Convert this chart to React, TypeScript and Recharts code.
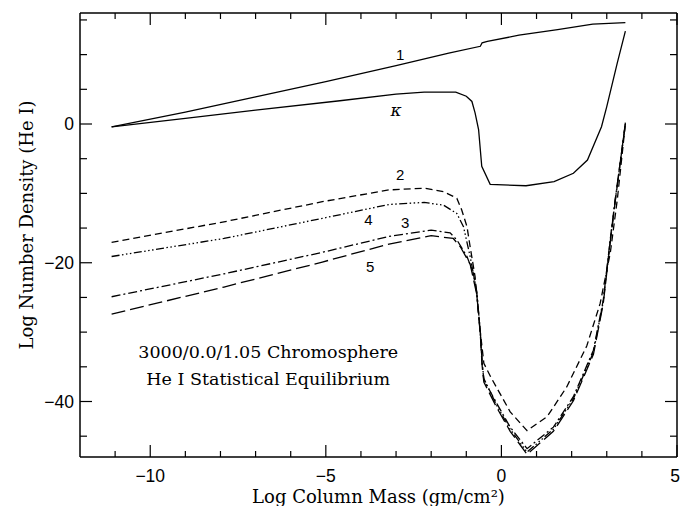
import { LineChart, Line, XAxis, YAxis, ReferenceDot, Label } from "recharts";

// axis ticks
const X_TICKS = [-11, -10, -9, -8, -7, -6, -5, -4, -3, -2, -1, 0, 1, 2, 3, 4, 5];
const X_LABELS = [-10, -5, 0, 5];
const Y_TICKS = [15, 10, 5, 0, -5, -10, -15, -20, -25, -30, -35, -40, -45];
const Y_LABELS = [0, -20, -40];

// curve 1 (solid)
const c1X = [-11.1, -9, -7, -5, -3, -1.5, -0.6, -0.55, -0.4, 0.5, 1.6, 2.6, 3.53];
const c1Y = [-0.4, 1.7, 3.9, 6.1, 8.4, 10.2, 11.2, 11.7, 11.9, 12.8, 13.6, 14.4, 14.6];

// kappa (solid)
const kX = [-11.1, -9, -7, -4.6, -3, -2.2, -1.3, -1.0, -0.84, -0.75, -0.65, -0.56, -0.32, 0.7, 1.5, 2.05, 2.45, 2.85, 3.0, 3.3, 3.53];
const kY = [-0.4, 0.8, 2.0, 3.35, 4.3, 4.6, 4.6, 4.0, 3.25, 1.6, -0.8, -6.1, -8.7, -8.9, -8.3, -7.1, -5.2, -0.4, 2.5, 8.8, 13.4];

// curve 2 (short dash)
const c2X = [-11.1, -7.9, -5.1, -3.2, -2.2, -1.65, -1.27, -1.13, -0.98, -0.89, -0.75, -0.6, -0.5, -0.3, 0.25, 0.73, 1.3, 1.86, 2.43, 2.81, 3.1, 3.3, 3.53];
const c2Y = [-17.05, -14.1, -11.2, -9.5, -9.25, -9.75, -10.7, -12.4, -14.8, -17.7, -22, -30, -34.5, -36.5, -41.5, -44.2, -42.2, -37.9, -32, -25.9, -18.6, -10.9, 0];

// curve 3 (dash-dot)
const c3X = [-11.1, -7.9, -5.1, -3.2, -2.0, -1.46, -1.27, -0.98, -0.8, -0.7, -0.6, -0.55, -0.5, -0.13, 0.25, 0.73, 1.48, 2.05, 2.62, 2.9, 3.1, 3.24, 3.53];
const c3Y = [-24.9, -21.6, -18.5, -16.2, -15.3, -15.7, -16.7, -19.1, -21.5, -24.4, -30.2, -34.5, -36.9, -40.3, -43.7, -46.8, -43.7, -39.3, -32.6, -25.4, -16.6, -10.9, 0];

// curve 4 (dash-dot-dot-dot)
const c4X = [-11.1, -7.9, -5.1, -3.2, -2.2, -1.65, -1.27, -1.08, -0.89, -0.7, -0.6, -0.55, -0.5, -0.13, 0.25, 0.73, 1.48, 2.05, 2.62, 2.9, 3.1, 3.24, 3.53];
const c4Y = [-19.1, -16.5, -13.6, -11.6, -11.3, -11.7, -12.9, -14.8, -19.1, -24.2, -30.0, -34.3, -36.7, -40.6, -44.0, -47.3, -44.0, -39.6, -32.9, -25.6, -16.8, -11.0, 0];

// curve 5 (long dash)
const c5X = [-11.1, -7.9, -5.1, -3.2, -2.0, -1.37, -1.17, -0.89, -0.7, -0.6, -0.55, -0.5, -0.13, 0.25, 0.73, 1.48, 2.05, 2.62, 2.9, 3.1, 3.24, 3.53];
const c5Y = [-27.4, -23.5, -19.9, -17.3, -16.1, -16.5, -17.7, -20.2, -24.6, -30.4, -34.8, -37.2, -40.9, -44.3, -47.6, -44.3, -39.9, -33.2, -25.9, -17.0, -11.2, 0.2];

// annotations
const CURVE_LABELS = ["1", "κ", "2", "3", "4", "5"];
const CURVE_LABEL_X = [-2.88, -3.0, -2.88, -2.74, -3.79, -3.74];
const CURVE_LABEL_Y = [10.0, 2.05, -7.3, -14.2, -13.8, -20.6];
const NOTE_LINES = ["3000/0.0/1.05 Chromosphere", "He I Statistical Equilibrium"];
const NOTE_X = -6.64;
const NOTE_Y = [-32.9, -36.8];

const X_DOMAIN = [-12, 5];
const Y_DOMAIN = [-48, 16];

// layout
const W = 680;
const H = 506;
const MARGIN = { top: 13, right: 3, bottom: 0, left: 0 };
const Y_AXIS_W = 80;
const X_AXIS_H = 49;
const PLOT = {
  left: MARGIN.left + Y_AXIS_W,
  right: W - MARGIN.right,
  top: MARGIN.top,
  bottom: H - MARGIN.bottom - X_AXIS_H,
};

const toPoints = (xs: number[], ys: number[]) => xs.map((x, i) => ({ x, y: ys[i] }));

const SERIES = [
  { name: "1", data: toPoints(c1X, c1Y), dash: undefined },
  { name: "kappa", data: toPoints(kX, kY), dash: undefined },
  { name: "2", data: toPoints(c2X, c2Y), dash: "7 4" },
  { name: "3", data: toPoints(c3X, c3Y), dash: "9 3 2 3" },
  { name: "4", data: toPoints(c4X, c4Y), dash: "8 2.5 1.5 2.5 1.5 2.5 1.5 2.5" },
  { name: "5", data: toPoints(c5X, c5Y), dash: "14 5" },
];

const SANS = "'Liberation Sans', Arial, sans-serif";
const SERIF = "'DejaVu Serif', serif";
const INK = "#000";
const FRAME = { stroke: INK, strokeWidth: 1.5 };

const fmt = (v: number) => (v < 0 ? `\u2212${-v}` : `${v}`);

const BottomTick = ({ x, y, payload }: any) => {
  const major = X_LABELS.includes(payload.value);
  const last = payload.value === X_DOMAIN[1];
  return (
    <g>
      <line x1={x} x2={x} y1={y} y2={y - (major ? 12 : 6)} stroke={INK} strokeWidth={1.2} />
      {major && (
        <text
          x={last ? x + 3 : x}
          y={y + 25}
          textAnchor={last ? "end" : "middle"}
          fontFamily={SANS}
          fontSize={17.5}
          fill={INK}
        >
          {fmt(payload.value)}
        </text>
      )}
    </g>
  );
};

const LeftTick = ({ x, y, payload }: any) => {
  const major = Y_LABELS.includes(payload.value);
  return (
    <g>
      <line x1={x} x2={x + (major ? 12 : 7)} y1={y} y2={y} stroke={INK} strokeWidth={1.2} />
      {major && (
        <text x={x - 6} y={y + 6} textAnchor="end" fontFamily={SANS} fontSize={17.5} fill={INK}>
          {fmt(payload.value)}
        </text>
      )}
    </g>
  );
};

// mirrored top / right edge of the box with inward ticks
const sx = (v: number) =>
  PLOT.left + ((v - X_DOMAIN[0]) / (X_DOMAIN[1] - X_DOMAIN[0])) * (PLOT.right - PLOT.left);
const sy = (v: number) =>
  PLOT.top + ((Y_DOMAIN[1] - v) / (Y_DOMAIN[1] - Y_DOMAIN[0])) * (PLOT.bottom - PLOT.top);

const FrameMirror = () => (
  <svg
    width={W}
    height={H}
    style={{ position: "absolute", left: 0, top: 0, pointerEvents: "none" }}
  >
    <line x1={PLOT.left} x2={PLOT.right} y1={PLOT.top} y2={PLOT.top} {...FRAME} />
    <line x1={PLOT.right} x2={PLOT.right} y1={PLOT.top} y2={PLOT.bottom} {...FRAME} />
    {X_TICKS.map((t) => (
      <line
        key={`tx${t}`}
        x1={sx(t)}
        x2={sx(t)}
        y1={PLOT.top}
        y2={PLOT.top + (X_LABELS.includes(t) ? 12 : 6)}
        stroke={INK}
        strokeWidth={1.2}
      />
    ))}
    {Y_TICKS.map((t) => (
      <line
        key={`ty${t}`}
        x1={PLOT.right}
        x2={PLOT.right - (Y_LABELS.includes(t) ? 12 : 7)}
        y1={sy(t)}
        y2={sy(t)}
        stroke={INK}
        strokeWidth={1.2}
      />
    ))}
  </svg>
);

const App = () => (
  <div style={{ position: "absolute", left: 0, top: 0, width: W, height: H, background: "#fff" }}>
    <LineChart width={W} height={H} margin={MARGIN}>
      <XAxis
        type="number"
        dataKey="x"
        domain={X_DOMAIN}
        ticks={X_TICKS}
        interval={0}
        height={X_AXIS_H}
        tickSize={0}
        tickMargin={0}
        tick={<BottomTick />}
        axisLine={FRAME}
      >
        <Label
          content={({ viewBox }: any) => (
            <text
              x={viewBox.x + viewBox.width / 2}
              y={viewBox.y + 46}
              textAnchor="middle"
              fontFamily={SERIF}
              fontSize={18}
              fill={INK}
            >
              Log Column Mass (gm/cm²)
            </text>
          )}
        />
      </XAxis>
      <YAxis
        type="number"
        domain={Y_DOMAIN}
        ticks={Y_TICKS}
        interval={0}
        width={Y_AXIS_W}
        tickSize={0}
        tickMargin={0}
        tick={<LeftTick />}
        axisLine={FRAME}
      >
        <Label
          content={({ viewBox }: any) => {
            const cy = viewBox.y + viewBox.height / 2 - 10;
            return (
              <text
                x={26}
                y={cy}
                transform={`rotate(-90 26 ${cy})`}
                textAnchor="middle"
                dominantBaseline="central"
                fontFamily={SERIF}
                fontSize={18}
                fill={INK}
              >
                Log Number Density (He I)
              </text>
            );
          }}
        />
      </YAxis>
      {SERIES.map((s) => (
        <Line
          key={s.name}
          data={s.data}
          dataKey="y"
          type="linear"
          stroke={INK}
          strokeWidth={1.3}
          strokeDasharray={s.dash}
          dot={false}
          isAnimationActive={false}
        />
      ))}
      {CURVE_LABELS.map((t, i) => (
        <ReferenceDot
          key={`lbl-${i}`}
          x={CURVE_LABEL_X[i]}
          y={CURVE_LABEL_Y[i]}
          r={0}
          stroke="none"
          fill="none"
          label={({ viewBox }: any) => (
            <text
              x={viewBox.x + (viewBox.width || 0) / 2}
              y={viewBox.y + (viewBox.height || 0) / 2}
              textAnchor="middle"
              dominantBaseline="central"
              fontFamily={t === "κ" ? SERIF : SANS}
              fontStyle={t === "κ" ? "italic" : "normal"}
              fontSize={t === "κ" ? 17 : 15}
              fill={INK}
            >
              {t}
            </text>
          )}
        />
      ))}
      {NOTE_LINES.map((t, i) => (
        <ReferenceDot
          key={`note-${i}`}
          x={NOTE_X}
          y={NOTE_Y[i]}
          r={0}
          stroke="none"
          fill="none"
          label={({ viewBox }: any) => (
            <text
              x={viewBox.x + (viewBox.width || 0) / 2}
              y={viewBox.y + (viewBox.height || 0) / 2}
              textAnchor="middle"
              dominantBaseline="central"
              fontFamily={SERIF}
              fontSize={17.5}
              fill={INK}
            >
              {t}
            </text>
          )}
        />
      ))}
    </LineChart>
    <FrameMirror />
  </div>
);

export default App;
